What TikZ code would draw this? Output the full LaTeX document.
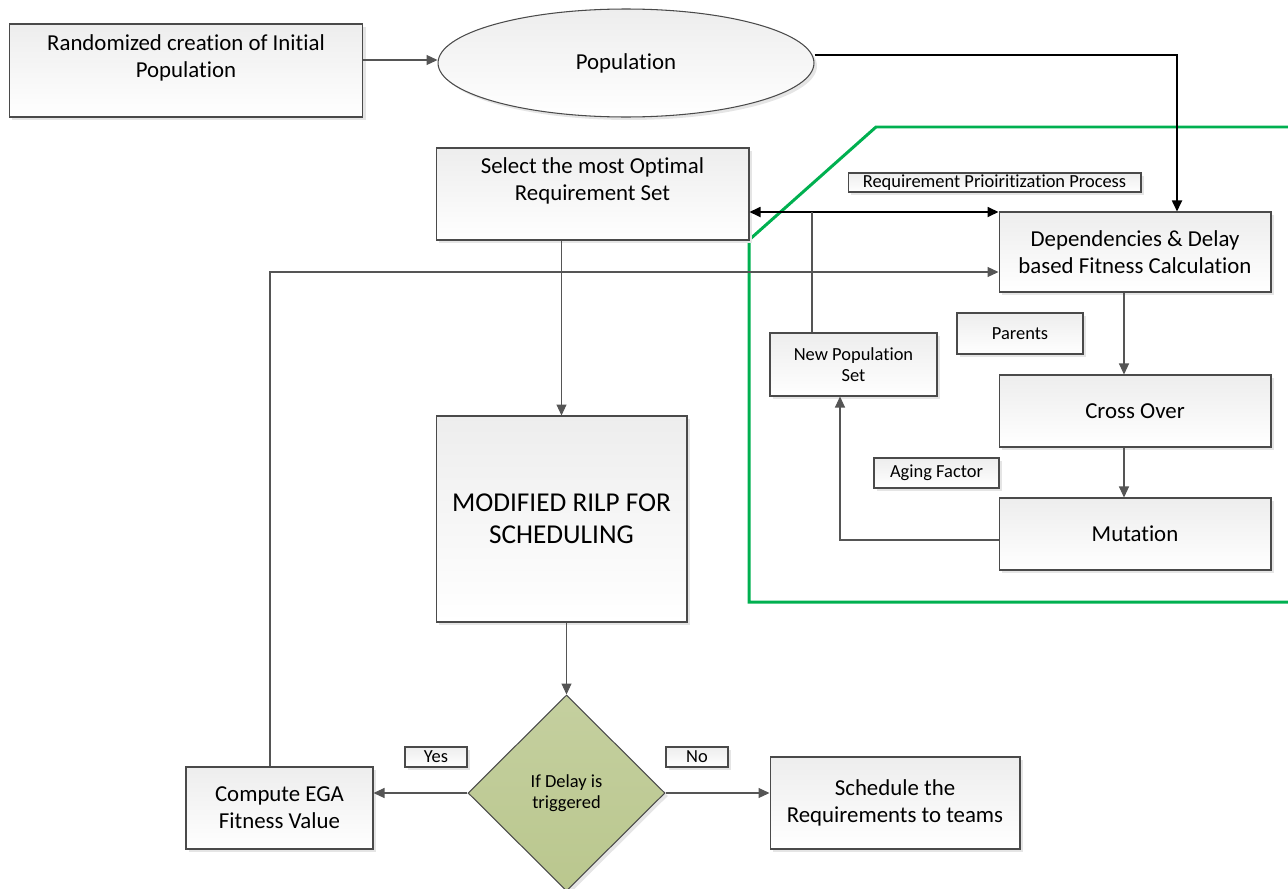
\documentclass[tikz,border=0pt]{standalone}
\usepackage{fontspec}
\setmainfont{Carlito}[RawFeature={-liga;-clig;-calt;-dlig}]
\usetikzlibrary{positioning, arrows.meta, shapes.geometric, shadows}
\definecolor{Edge}{HTML}{4A4A4A}
\definecolor{Wire}{HTML}{555555}
\definecolor{Zone}{HTML}{00B050}
\definecolor{Olive}{HTML}{BAC78E}

\begin{document}
\begin{tikzpicture}[x=0.02cm, y=-0.02cm,
    block/.style={draw=Edge, line width=0.6pt, top color=black!7, bottom color=white, align=center, inner sep=0pt,
        drop shadow={shadow xshift=0.6mm, shadow yshift=-0.6mm, fill=black!10, opacity=1},
        font=\fontsize{13}{15.5}\selectfont},
    tag/.style={block, font=\fontsize{10.5}{12}\selectfont},
    conn/.style={-{Triangle[length=2.2mm, width=2mm]}, draw=Wire, line width=0.6pt},
    wire/.style={draw=Wire, line width=0.6pt},
    barr/.style={-{Triangle[length=2.2mm, width=2mm]}, line width=1pt, black}
]
\useasboundingbox (0,0) rectangle (1288,889);

% top row
\node[block, minimum width=7.08cm, minimum height=1.86cm] (init) at (186,70.5) {Randomized creation of Initial\\Population\\[-3.5pt]\strut};
\node[block, ellipse, minimum width=7.52cm, minimum height=2.16cm] (pop) at (626,63) {Population};

% prioritization zone
\draw[Zone, line width=1.7pt] (1288,127) -- (876,127) -- (749,240) -- (749,602) -- (1288,602);

\node[block, minimum width=6.26cm, minimum height=1.84cm] (select) at (592.5,194) {Select the most Optimal\\Requirement Set\\[-3.5pt]\strut};
\node[tag, minimum width=5.86cm, minimum height=0.38cm] (prio) at (994.5,182.5) {Requirement Prioiritization Process};
\node[block, minimum width=5.44cm, minimum height=1.6cm] (dep) at (1135,252) {Dependencies \& Delay\\based Fitness Calculation};
\node[tag, minimum width=3.34cm, minimum height=1.26cm] (newpop) at (853.5,364.5) {New Population\\Set};
\node[tag, minimum width=2.52cm, minimum height=0.82cm] (parents) at (1020,333.5) {Parents};
\node[block, minimum width=5.44cm, minimum height=1.44cm] (cross) at (1135,411) {Cross Over};
\node[tag, minimum width=2.5cm, minimum height=0.6cm] (aging) at (936.5,473) {Aging Factor};
\node[block, minimum width=5.44cm, minimum height=1.44cm] (mut) at (1135,534) {Mutation};

% scheduling
\node[block, minimum width=5.02cm, minimum height=4.12cm, font=\fontsize{15.5}{18}\selectfont] (rilp) at (561.5,519) {MODIFIED RILP FOR\\SCHEDULING};
\node[block, diamond, aspect=1, minimum width=3.94cm, minimum height=3.92cm, top color=Olive!85, bottom color=Olive, font=\fontsize{10.5}{12}\selectfont] (delay) at (566.5,793) {If Delay is\\triggered};
\node[tag, minimum width=1.24cm, minimum height=0.4cm] (yes) at (436,757) {Yes};
\node[tag, minimum width=1.24cm, minimum height=0.4cm] (no) at (697,757) {No};
\node[block, minimum width=3.74cm, minimum height=1.64cm] (ega) at (279.5,808) {Compute EGA\\Fitness Value};
\node[block, minimum width=5cm, minimum height=1.84cm] (sched) at (895,803) {Schedule the\\Requirements to teams};

% helper points
\coordinate (popline) at (1177,55);
\coordinate (both) at (0,212);
\coordinate (back) at (270,272);
\coordinate (upline) at (812,0);
\coordinate (ageline) at (840,540);
\coordinate (mid) at (1124,0);

% connectors
\draw[conn] (init.east |- 0,60) -- (pop.west |- 0,60);
\draw[barr] (pop.east |- popline) -| (popline |- dep.north);
\draw[barr, {Triangle[length=2.2mm, width=2mm]}-{Triangle[length=2.2mm, width=2mm]}] (select.east |- both) -- (dep.west |- both);
\draw[wire] (upline |- newpop.north) -- (upline |- both);
\draw[conn] (ega.north -| back) |- (dep.west |- back);
\draw[conn] (mid |- dep.south) -- (mid |- cross.north);
\draw[conn] (mid |- cross.south) -- (mid |- mut.north);
\draw[conn] (mut.west |- ageline) -| (ageline |- newpop.south);
\draw[conn] (select.south -| rilp.north) -- (rilp.north);
\draw[conn] (rilp.south -| delay.north) -- (delay.north);
\draw[conn] (delay.west) -- (delay.west -| ega.east);
\draw[conn] (delay.east) -- (delay.east -| sched.west);

\end{tikzpicture}
\end{document}
